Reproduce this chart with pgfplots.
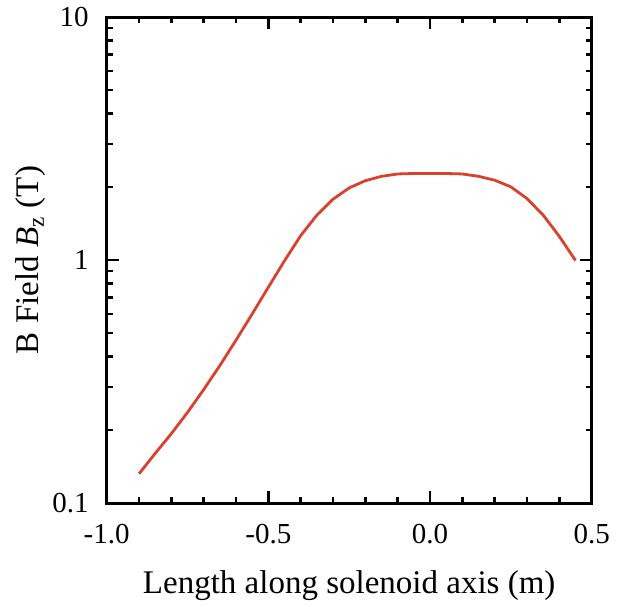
\documentclass[border=0pt]{standalone}
\usepackage{fontspec}
\setmainfont{Liberation Serif}
\usepackage{pgfplots}
\pgfplotsset{compat=1.18}
\definecolor{curvered}{RGB}{214,66,46}

\begin{document}
\begin{tikzpicture}
\begin{axis}[
  scale only axis,
  width=242.5pt, height=243pt,
  xmin=-1, xmax=0.5,
  ymode=log, ymin=0.1, ymax=10,
  xtick={-1,-0.5,0,0.5},
  xticklabels={-1.0,-0.5,0.0,0.5},
  minor x tick num=4,
  ytick={0.1,1,10},
  yticklabels={0.1,1,10},
  /pgf/number format/assume math mode=true,
  tick align=inside,
  major tick length=6pt,
  minor tick length=3pt,
  every tick/.style={line width=1.3pt, black},
  axis line style={line width=1.5pt},
  tick label style={font=\fontsize{14.5}{16}\selectfont},
  xticklabel shift=7pt,
  yticklabel shift=5.5pt,
  label style={font=\fontsize{16.5}{19}\selectfont},
  xlabel={Length along solenoid axis (m)},
  ylabel={B Field \textit{B}\textsubscript{z} (T)},
  xlabel style={at={(axis description cs:0.5,0)}, anchor=base, yshift=-45pt},
  ylabel style={at={([xshift=-34pt]axis description cs:0,0.5)}, anchor=base},
]
\addplot[curvered, line width=1.4pt] coordinates {
  (-0.90,0.132) (-0.85,0.160) (-0.80,0.193) (-0.75,0.236) (-0.70,0.293)
  (-0.65,0.368) (-0.60,0.468) (-0.55,0.600) (-0.50,0.773) (-0.45,0.993)
  (-0.40,1.26) (-0.35,1.53) (-0.30,1.78) (-0.25,1.98) (-0.20,2.12)
  (-0.15,2.21) (-0.10,2.26) (-0.05,2.27) (0.00,2.27) (0.05,2.27)
  (0.10,2.26) (0.15,2.21) (0.20,2.13) (0.25,2.00) (0.30,1.79)
  (0.35,1.53) (0.40,1.25) (0.45,0.995)
};
\end{axis}
\useasboundingbox ([shift={(-53.35pt,-48.5pt)}]current axis.south west) rectangle ++(310pt,300pt);
\end{tikzpicture}
\end{document}
